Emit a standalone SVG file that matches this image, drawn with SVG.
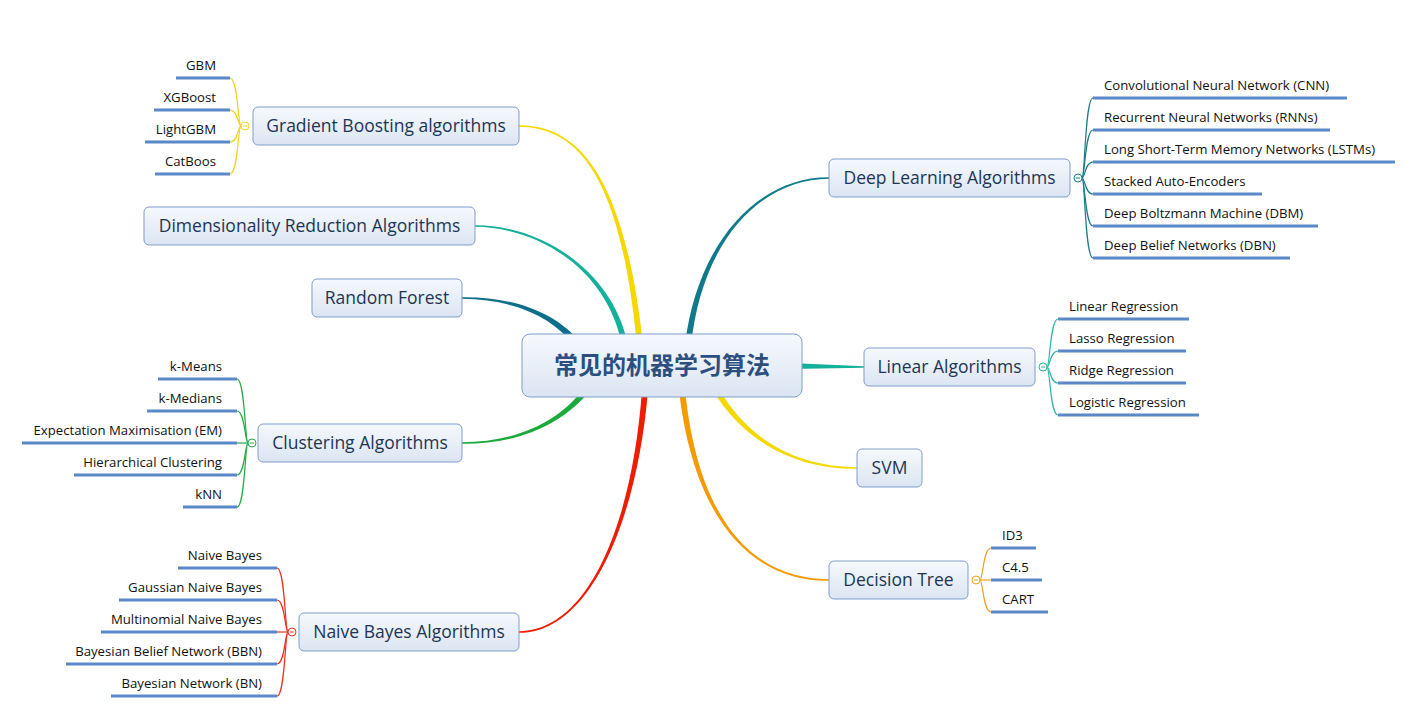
<svg xmlns="http://www.w3.org/2000/svg" width="1405" height="709" viewBox="0 0 1405 709">
<defs>
<linearGradient id="nodeFill" x1="0" y1="0" x2="0" y2="1">
<stop offset="0" stop-color="#f6f9fd"/>
<stop offset="1" stop-color="#dbe5f2"/>
</linearGradient>
<style>
.node{fill:url(#nodeFill);stroke:#7f9dcb;stroke-width:1}
.topic{font-family:"Open Sans","Noto Sans",sans-serif;font-size:17.5px;fill:#1d3553;text-anchor:middle}
.center{font-family:"Noto Sans CJK SC",sans-serif;font-size:24px;font-weight:bold;fill:#2c4f80;text-anchor:middle}
.leaf{font-family:"Open Sans","Noto Sans",sans-serif;font-size:13.2px;fill:#111}
.end{text-anchor:end}
.ul{stroke:#5b88c6;stroke-width:3;fill:none}
.lc{fill:none;stroke-width:1.2}
.tog{fill:#fff;stroke-width:1}
</style>
</defs>
<rect width="1405" height="709" fill="#fff"/>
<g id="connectors">
<path fill="#f5d800" d="M643,344.7 C627.3,199.8 590,124.7 519,125.2 L519,126.8 C590,127.3 622.7,200.2 637,345.3 Z"/>
<path fill="#13b09c" d="M627.9,344.4 C612.3,269.6 540,224.7 475,225.2 L475,226.8 C540,227.3 607.7,270.5 622.1,345.6 Z"/>
<path fill="#0d6f8c" d="M580.8,342.9 C557.2,313.3 515,296.5 462,297.2 L462,298.8 C515,299.5 552.8,316.7 575.2,347.1 Z"/>
<path fill="#1aaa3c" d="M585.6,386.2 C558.2,423.6 515,441.7 462,442.2 L462,443.8 C515,444.3 561.8,426.4 590.4,389.8 Z"/>
<path fill="#ee1c00" d="M642,389.8 C632.7,519.8 590,630.7 519,631.2 L519,632.8 C590,633.3 637.3,520.2 648,390.2 Z"/>
<path fill="#0e7a8a" d="M691,345.3 C702.3,240.3 760,179.3 829,178.8 L829,177.2 C760,176.7 697.7,239.7 685,344.7 Z"/>
<path fill="#13b09c" d="M790,363 L864,366.2 L864,367.8 L790,369 Z"/>
<path fill="#f5d800" d="M712.4,389.5 C743,441.2 795,469.3 857,468.8 L857,467.2 C795,466.7 747,438.9 717.6,386.5 Z"/>
<path fill="#f59a00" d="M679,390.3 C692.7,510.3 745,581.3 829,580.8 L829,579.2 C745,578.7 697.3,509.8 685,389.7 Z"/>
<g class="lc" stroke="#f0d020">
<path d="M241,126 C238,126 238,78 230,78"/>
<path d="M241,126 C238,126 238,110 230,110"/>
<path d="M241,126 C238,126 238,142 230,142"/>
<path d="M241,126 C238,126 238,174 230,174"/>
</g>
<g class="lc" stroke="#22aa44">
<path d="M248,443 C245,443 245,379 237,379"/>
<path d="M248,443 C245,443 245,411 237,411"/>
<path d="M248,443 L237,443"/>
<path d="M248,443 C245,443 245,475 237,475"/>
<path d="M248,443 C245,443 245,507 237,507"/>
</g>
<g class="lc" stroke="#ee2a1a">
<path d="M288,632 C285,632 285,568 277,568"/>
<path d="M288,632 C285,632 285,600 277,600"/>
<path d="M288,632 L277,632"/>
<path d="M288,632 C285,632 285,664 277,664"/>
<path d="M288,632 C285,632 285,696 277,696"/>
</g>
<g class="lc" stroke="#1a7a8a">
<path d="M1082,178 C1085,178 1085,98 1093,98"/>
<path d="M1082,178 C1085,178 1085,130 1093,130"/>
<path d="M1082,178 C1085,178 1085,162 1093,162"/>
<path d="M1082,178 C1085,178 1085,194 1093,194"/>
<path d="M1082,178 C1085,178 1085,226 1093,226"/>
<path d="M1082,178 C1085,178 1085,258 1093,258"/>
</g>
<g class="lc" stroke="#2ab6a6">
<path d="M1047,367 C1050,367 1050,319 1058,319"/>
<path d="M1047,367 C1050,367 1050,351 1058,351"/>
<path d="M1047,367 C1050,367 1050,383 1058,383"/>
<path d="M1047,367 C1050,367 1050,415 1058,415"/>
</g>
<g class="lc" stroke="#f0a020">
<path d="M980,580 C983,580 983,548 991,548"/>
<path d="M980,580 L991,580"/>
<path d="M980,580 C983,580 983,612 991,612"/>
</g>
</g>
<g id="center">
<rect class="node" x="522" y="334" width="280" height="63" rx="8"/>
<text class="center" x="662" y="374">常见的机器学习算法</text>
</g>
<g id="gradient-boosting">
<rect class="node" x="253" y="107" width="266" height="38" rx="5"/>
<text class="topic" x="386" y="132">Gradient Boosting algorithms</text>
<circle class="tog" cx="245" cy="126" r="4" stroke="#f0d020"/>
<line x1="243" y1="126" x2="247" y2="126" stroke="#f0d020" stroke-width="1"/>
<line class="ul" x1="176" y1="78" x2="230" y2="78"/>
<line class="ul" x1="154" y1="110" x2="230" y2="110"/>
<line class="ul" x1="145" y1="142" x2="230" y2="142"/>
<line class="ul" x1="155" y1="174" x2="230" y2="174"/>
<text class="leaf end" x="216" y="70">GBM</text>
<text class="leaf end" x="216" y="102">XGBoost</text>
<text class="leaf end" x="216" y="134">LightGBM</text>
<text class="leaf end" x="216" y="166">CatBoos</text>
</g>
<g id="dimensionality-reduction">
<rect class="node" x="144" y="207" width="331" height="38" rx="5"/>
<text class="topic" x="309.5" y="232">Dimensionality Reduction Algorithms</text>
</g>
<g id="random-forest">
<rect class="node" x="312" y="279" width="150" height="38" rx="5"/>
<text class="topic" x="387" y="304">Random Forest</text>
</g>
<g id="clustering">
<rect class="node" x="258" y="424" width="204" height="38" rx="5"/>
<text class="topic" x="360" y="449">Clustering Algorithms</text>
<circle class="tog" cx="252" cy="443" r="4" stroke="#22aa44"/>
<line x1="250" y1="443" x2="254" y2="443" stroke="#22aa44" stroke-width="1"/>
<line class="ul" x1="158" y1="379" x2="237" y2="379"/>
<line class="ul" x1="147" y1="411" x2="237" y2="411"/>
<line class="ul" x1="22" y1="443" x2="237" y2="443"/>
<line class="ul" x1="74" y1="475" x2="237" y2="475"/>
<line class="ul" x1="183" y1="507" x2="237" y2="507"/>
<text class="leaf end" x="222" y="371">k-Means</text>
<text class="leaf end" x="222" y="403">k-Medians</text>
<text class="leaf end" x="222" y="435">Expectation Maximisation (EM)</text>
<text class="leaf end" x="222" y="467">Hierarchical Clustering</text>
<text class="leaf end" x="222" y="499">kNN</text>
</g>
<g id="naive-bayes">
<rect class="node" x="299" y="613" width="220" height="38" rx="5"/>
<text class="topic" x="409" y="638">Naive Bayes Algorithms</text>
<circle class="tog" cx="292" cy="632" r="4" stroke="#ee2a1a"/>
<line x1="290" y1="632" x2="294" y2="632" stroke="#ee2a1a" stroke-width="1"/>
<line class="ul" x1="178" y1="568" x2="277" y2="568"/>
<line class="ul" x1="119" y1="600" x2="277" y2="600"/>
<line class="ul" x1="101" y1="632" x2="277" y2="632"/>
<line class="ul" x1="66" y1="664" x2="277" y2="664"/>
<line class="ul" x1="111" y1="696" x2="277" y2="696"/>
<text class="leaf end" x="262" y="560">Naive Bayes</text>
<text class="leaf end" x="262" y="592">Gaussian Naive Bayes</text>
<text class="leaf end" x="262" y="624">Multinomial Naive Bayes</text>
<text class="leaf end" x="262" y="656">Bayesian Belief Network (BBN)</text>
<text class="leaf end" x="262" y="688">Bayesian Network (BN)</text>
</g>
<g id="deep-learning">
<rect class="node" x="829" y="159" width="241" height="38" rx="5"/>
<text class="topic" x="949.5" y="184">Deep Learning Algorithms</text>
<circle class="tog" cx="1078" cy="178" r="4" stroke="#1a7a8a"/>
<line x1="1076" y1="178" x2="1080" y2="178" stroke="#1a7a8a" stroke-width="1"/>
<line class="ul" x1="1093" y1="98" x2="1347" y2="98"/>
<line class="ul" x1="1093" y1="130" x2="1330" y2="130"/>
<line class="ul" x1="1093" y1="162" x2="1395" y2="162"/>
<line class="ul" x1="1093" y1="194" x2="1262" y2="194"/>
<line class="ul" x1="1093" y1="226" x2="1318" y2="226"/>
<line class="ul" x1="1093" y1="258" x2="1290" y2="258"/>
<text class="leaf" x="1104" y="90">Convolutional Neural Network (CNN)</text>
<text class="leaf" x="1104" y="122">Recurrent Neural Networks (RNNs)</text>
<text class="leaf" x="1104" y="154">Long Short-Term Memory Networks (LSTMs)</text>
<text class="leaf" x="1104" y="186">Stacked Auto-Encoders</text>
<text class="leaf" x="1104" y="218">Deep Boltzmann Machine (DBM)</text>
<text class="leaf" x="1104" y="250">Deep Belief Networks (DBN)</text>
</g>
<g id="linear">
<rect class="node" x="864" y="348" width="171" height="38" rx="5"/>
<text class="topic" x="949.5" y="373">Linear Algorithms</text>
<circle class="tog" cx="1043" cy="367" r="4" stroke="#2ab6a6"/>
<line x1="1041" y1="367" x2="1045" y2="367" stroke="#2ab6a6" stroke-width="1"/>
<line class="ul" x1="1058" y1="319" x2="1189" y2="319"/>
<line class="ul" x1="1058" y1="351" x2="1186" y2="351"/>
<line class="ul" x1="1058" y1="383" x2="1186" y2="383"/>
<line class="ul" x1="1058" y1="415" x2="1199" y2="415"/>
<text class="leaf" x="1069" y="311">Linear Regression</text>
<text class="leaf" x="1069" y="343">Lasso Regression</text>
<text class="leaf" x="1069" y="375">Ridge Regression</text>
<text class="leaf" x="1069" y="407">Logistic Regression</text>
</g>
<g id="svm">
<rect class="node" x="857" y="449" width="65" height="38" rx="5"/>
<text class="topic" x="889.5" y="474">SVM</text>
</g>
<g id="decision-tree">
<rect class="node" x="829" y="561" width="139" height="38" rx="5"/>
<text class="topic" x="898.5" y="586">Decision Tree</text>
<circle class="tog" cx="976" cy="580" r="4" stroke="#f0a020"/>
<line x1="974" y1="580" x2="978" y2="580" stroke="#f0a020" stroke-width="1"/>
<line class="ul" x1="991" y1="548" x2="1036" y2="548"/>
<line class="ul" x1="991" y1="580" x2="1042" y2="580"/>
<line class="ul" x1="991" y1="612" x2="1048" y2="612"/>
<text class="leaf" x="1002" y="540">ID3</text>
<text class="leaf" x="1002" y="572">C4.5</text>
<text class="leaf" x="1002" y="604">CART</text>
</g>
</svg>
